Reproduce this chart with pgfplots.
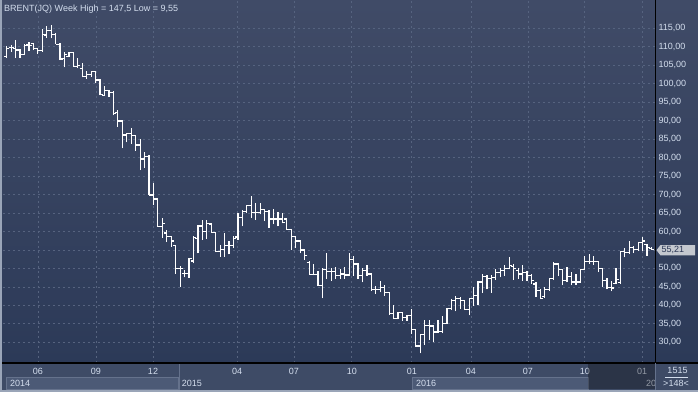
\documentclass[border=0pt]{standalone}
\usepackage{fontspec}
\setmainfont{Liberation Sans}
\usepackage{pgfplots}
\usepackage{pgfplotstable}
\pgfplotsset{compat=1.18}
\definecolor{bgtop}{HTML}{404B67}
\definecolor{bgbot}{HTML}{2C3A58}
\definecolor{rowbg}{HTML}{3E4B66}
\definecolor{yearbox}{HTML}{4C5A76}
\definecolor{yearedge}{HTML}{65728C}
\definecolor{gridc}{HTML}{56637F}
\definecolor{lblc}{HTML}{D4DEEE}
\definecolor{borderc}{HTML}{9AA5B8}
\definecolor{pricebox}{HTML}{C4C8CF}
\definecolor{pricetxt}{HTML}{2A3654}
\newcommand\lbl{\fontsize{9}{10.8}\selectfont}
\pgfdeclareplotmark{otick}{\pgfpathmoveto{\pgfqpoint{-\pgfplotmarksize}{0pt}}\pgfpathlineto{\pgfqpoint{0pt}{0pt}}\pgfusepathqstroke}
\pgfdeclareplotmark{ctick}{\pgfpathmoveto{\pgfqpoint{\pgfplotmarksize}{0pt}}\pgfpathlineto{\pgfqpoint{0pt}{0pt}}\pgfusepathqstroke}
\pgfplotstableread{
k O H L C
0 107.3 110.3 107.0 109.6
1 109.9 110.5 108.7 109.7
2 109.6 111.8 106.9 109.1
3 109.1 109.3 107.0 108.0
4 107.9 110.7 107.8 110.3
5 110.5 111.2 108.9 110.3
6 110.8 110.9 109.1 109.6
7 109.6 109.8 108.0 108.9
8 108.9 114.8 108.7 113.4
9 113.2 115.5 112.5 114.5
10 114.5 115.9 112.3 113.4
11 113.4 113.6 110.7 110.7
12 110.7 110.9 106.4 106.7
13 106.9 108.5 104.4 107.8
14 107.3 108.5 107.1 108.5
15 108.5 108.7 104.6 104.6
16 104.6 106.9 104.2 104.9
17 104.2 105.5 101.7 101.9
18 101.9 103.4 101.3 102.5
19 102.4 103.3 101.9 103.3
20 103.3 103.5 100.1 101.0
21 101.0 101.2 96.9 97.1
22 96.9 99.5 96.7 98.2
23 98.2 98.4 96.4 97.7
24 97.7 97.9 91.5 92.0
25 92.2 92.9 88.4 89.9
26 89.9 90.2 82.5 86.1
27 86.1 86.6 84.1 86.6
28 86.6 87.9 83.8 85.9
29 85.9 86.1 81.8 83.4
30 83.4 85.0 76.6 79.6
31 79.6 81.6 77.3 80.3
32 80.3 80.7 69.9 69.9
33 69.9 73.0 67.3 68.8
34 68.8 69.0 61.3 61.3
35 61.4 63.7 58.3 62.2
36 59.6 60.5 57.1 58.6
37 58.6 58.8 55.9 57.4
38 56.2 56.4 48.6 49.9
39 49.9 50.6 45.0 49.9
40 48.7 49.6 47.6 48.7
41 48.7 52.9 47.5 52.7
42 52.0 58.7 51.4 58.3
43 58.0 61.8 54.1 61.5
44 61.5 63.0 57.7 60.1
45 60.1 63.0 57.9 62.2
46 62.0 62.3 59.6 59.8
47 59.8 59.9 54.4 54.6
48 54.6 56.3 53.2 55.1
49 55.1 59.6 53.2 56.1
50 56.1 57.5 53.8 56.2
51 56.2 58.9 55.4 58.2
52 58.5 65.0 57.8 63.7
53 63.7 65.9 61.4 65.5
54 65.5 67.3 65.0 67.0
55 67.0 69.7 63.7 65.2
56 65.2 67.7 63.2 65.2
57 65.2 67.7 64.6 65.9
58 65.9 66.1 62.8 65.5
59 65.5 65.9 61.0 63.4
60 63.4 66.1 61.9 63.4
61 63.4 65.2 61.4 63.4
62 63.4 65.0 62.2 62.5
63 63.4 63.7 60.5 60.5
64 60.5 60.7 55.1 58.6
65 58.6 58.8 55.6 57.4
66 57.4 57.6 54.1 55.0
67 55.0 55.2 52.4 53.5
68 51.7 51.9 48.4 48.4
69 48.4 51.1 48.1 48.4
70 48.4 49.3 45.2 45.4
71 45.4 50.0 41.9 49.7
72 49.7 54.3 47.1 49.1
73 49.1 50.0 46.7 49.1
74 49.1 50.3 47.1 48.0
75 48.0 49.8 47.1 48.5
76 48.5 50.3 47.1 48.2
77 48.2 54.1 48.0 52.5
78 52.5 53.4 48.0 51.2
79 51.2 51.4 47.1 48.0
80 48.0 50.0 46.2 49.4
81 49.4 50.9 48.0 48.5
82 48.5 48.7 44.0 44.4
83 44.4 45.3 43.1 44.4
84 44.4 46.7 43.5 44.9
85 44.9 45.5 42.6 43.4
86 43.4 43.6 37.5 37.7
87 37.7 40.0 36.2 36.4
88 36.4 38.2 36.2 38.0
89 38.0 38.2 35.9 36.8
90 36.8 37.5 35.9 37.3
91 37.3 39.1 32.3 33.5
92 33.5 33.7 28.8 29.0
93 29.0 32.3 27.0 32.1
94 32.1 36.0 29.4 34.6
95 34.6 36.0 30.6 34.4
96 34.4 34.6 30.0 32.8
97 32.8 36.0 32.6 33.0
98 33.0 37.0 32.4 35.1
99 35.1 39.3 35.0 39.1
100 39.1 41.6 38.7 41.3
101 41.3 42.5 38.4 41.8
102 41.8 42.2 39.1 41.3
103 41.3 41.5 38.7 38.9
104 38.9 42.0 37.3 41.8
105 41.8 44.9 39.8 42.7
106 42.7 46.5 40.0 46.3
107 46.3 48.5 43.4 47.9
108 47.9 48.1 44.3 47.2
109 47.2 48.1 43.4 47.6
110 47.6 49.9 47.0 48.8
111 48.8 50.0 47.6 49.4
112 49.4 50.8 47.9 49.9
113 50.0 53.0 49.8 50.7
114 50.5 51.2 47.0 50.0
115 49.5 50.0 47.2 48.5
116 48.5 50.9 46.7 49.0
117 49.0 49.2 46.7 48.1
118 48.1 48.5 45.8 46.7
119 45.8 46.3 42.2 44.0
120 44.0 44.5 41.8 41.8
121 42.5 44.9 42.0 44.4
122 44.4 47.4 44.0 47.2
123 47.2 51.7 47.0 51.2
124 51.2 51.6 47.9 49.7
125 49.7 49.9 45.4 46.7
126 46.7 50.3 46.3 47.9
127 47.9 49.0 45.4 46.3
128 46.3 48.5 45.6 46.3
129 46.3 49.9 46.1 49.7
130 49.7 53.5 49.5 51.8
131 51.8 53.9 51.2 51.8
132 51.8 53.5 50.9 51.8
133 51.8 52.0 49.0 49.9
134 49.9 50.1 44.9 46.7
135 46.7 47.4 44.3 44.9
136 44.9 46.7 43.8 44.7
137 46.0 50.0 45.9 47.0
138 46.2 54.8 45.8 54.5
139 54.5 55.4 53.0 54.3
140 54.3 57.5 53.9 55.7
141 55.7 56.1 54.3 55.2
142 55.2 57.0 54.8 57.0
143 57.0 58.4 54.8 57.4
144 56.4 56.6 53.5 55.7
145 55.5 55.8 55.0 55.21
}\ohlc
\begin{document}
\begin{tikzpicture}[x=1pt,y=1pt]
\useasboundingbox (-3,-29) rectangle (695,363);
\shade[top color=bgtop, bottom color=bgbot] (-3,0) rectangle (695,363);
\fill[rowbg] (-3,-29) rectangle (695,0);
\filldraw[fill=yearbox, draw=yearedge, line width=0.6pt] (3,-14) rectangle (175,-26);
\filldraw[fill=yearbox, draw=yearedge, line width=0.6pt] (409,-14) rectangle (585,-26);
\draw[yearedge, line width=0.8pt] (176,0) -- (176,-27);
\node[anchor=base west, inner sep=0pt, font=\lbl, text=lblc] at (7,-23) {2014};
\node[anchor=base west, inner sep=0pt, font=\lbl, text=lblc] at (178.7,-23) {2015};
\node[anchor=base west, inner sep=0pt, font=\lbl, text=lblc] at (413,-23) {2016};
\node[anchor=base west, inner sep=0pt, font=\lbl, text=lblc] at (643,-23) {20};
\begin{axis}[
  at={(0,0)}, anchor=south west, scale only axis,
  width=652pt, height=363pt,
  xmin=-0.83, xmax=145.78, ymin=24.4, ymax=122.66,
  axis line style={draw=none},
  tick style={draw=none},
  ytick={30,35,40,45,50,60,65,70,75,80,85,90,95,100,105,110,115},
  extra y ticks={55},
  extra y tick labels={},
  extra y tick style={grid=major},
  yticklabel pos=right,
  yticklabel style={anchor=west, font=\lbl, text=lblc,
    /pgf/number format/fixed, /pgf/number format/fixed zerofill,
    /pgf/number format/precision=2, /pgf/number format/use comma,
    /pgf/number format/1000 sep={}, /pgf/number format/assume math mode=true},
  xtick={7.04,20.08,32.9,51.8,64.6,77.6,91.1,104.4,117.2,130.0,142.9},
  xticklabels={06,09,12,04,07,10,01,04,07,10,01},
  xticklabel style={anchor=base, yshift=-11.3pt, inner sep=0pt, font=\lbl, text=lblc},
  grid=major,
  major grid style={dash pattern=on 2pt off 3pt, draw=gridc, line width=0.7pt},
]
\addplot[draw=none, mark=none, error bars/.cd, y dir=plus, y explicit, error mark=none,
  error bar style={line width=1.2pt, draw=white, solid}]
  table[x=k, y=L, y error expr=\thisrow{H}-\thisrow{L}] {\ohlc};
\addplot[only marks, mark=otick, mark size=2.6pt, mark options={line width=1.2pt, draw=white}]
  table[x=k, y=O] {\ohlc};
\addplot[only marks, mark=ctick, mark size=2.6pt, mark options={line width=1.2pt, draw=white}]
  table[x=k, y=C] {\ohlc};
\end{axis}
\fill[black, opacity=0.3] (585,0) rectangle (652,-26);
\fill[rowbg] (652,0) rectangle (695,-27);
\draw[black, line width=1.2pt] (-1,0) -- (695,0);
\draw[black, line width=1pt] (652,0) -- (652,363);
\draw[yearedge, line width=0.6pt] (652,0) -- (652,-27);
\node[anchor=base, inner sep=0pt, font=\lbl, text=lblc] at (674.5,-10.3) {1515};
\draw[lblc, line width=0.5pt] (662,-14) -- (685,-14);
\node[anchor=base, inner sep=0pt, font=\lbl, text=lblc] at (673,-23) {>148<};
\fill[borderc] (-3,-29) rectangle (-1,363);
\fill[borderc] (-3,-29) rectangle (695,-27);
\fill[pricebox] (653.5,112.8) -- (657.5,118) -- (692,118) -- (692,107.6) -- (657.5,107.6) -- cycle;
\node[anchor=west, inner sep=0pt, font=\lbl, text=pricetxt] at (658.5,112.8) {55,21};
\node[anchor=base west, inner sep=0pt, font=\lbl, text=lblc] at (1,351.3) {BRENT(JQ) Week High = 147,5 Low = 9,55};
\end{tikzpicture}
\end{document}
